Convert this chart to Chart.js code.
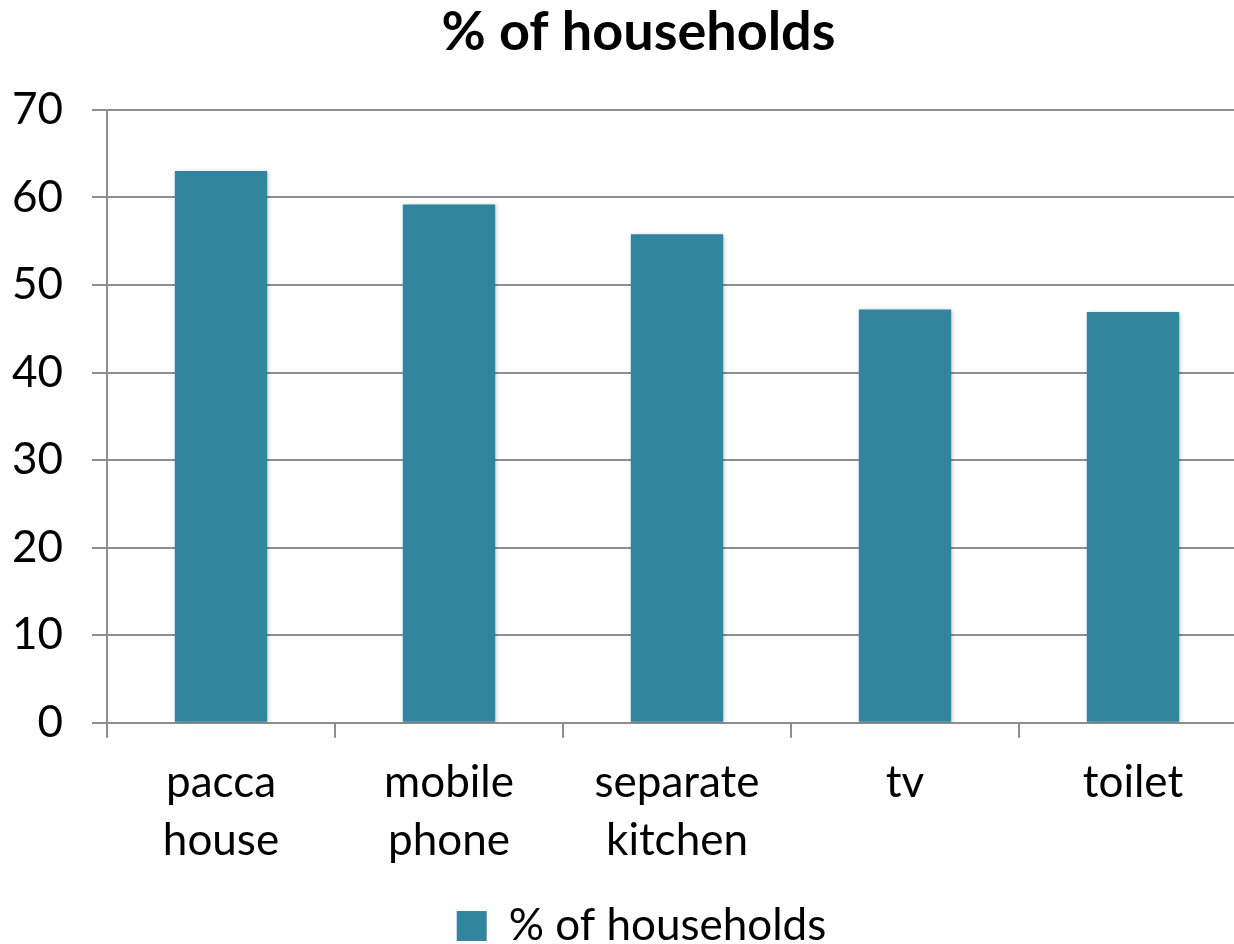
<!DOCTYPE html>
<html>
<head>
<meta charset="utf-8">
<script src="https://cdn.jsdelivr.net/npm/chart.js@4.4.0/dist/chart.umd.min.js"></script>
<style>
    html, body { margin: 0; padding: 0; background: #fff; overflow: hidden; }
    #wrap { width: 1276px; height: 944px; }
</style>
</head>
<body>
<div id="wrap"><canvas id="chart" width="1276" height="944"></canvas></div>
<script>
// dados
const categories = [['pacca', 'house'], ['mobile', 'phone'], ['separate', 'kitchen'], 'tv', 'toilet'];
const seriesName = '% of households';
const values = [63.0, 59.2, 55.8, 47.2, 46.9];
const yTicks = [0, 10, 20, 30, 40, 50, 60, 70];

const barColor = '#31859c';
const gridColor = '#8e8e8e';
const fontFamily = 'Lato, "Open Sans", sans-serif';

// sombra leve nas barras
const barShadow = {
    id: 'barShadow',
    beforeDatasetsDraw(chart) {
        const ctx = chart.ctx;
        ctx.save();
        ctx.shadowColor = 'rgba(0,0,0,0.25)';
        ctx.shadowBlur = 4;
        ctx.shadowOffsetX = 1;
        ctx.shadowOffsetY = 1;
    },
    afterDatasetsDraw(chart) {
        chart.ctx.restore();
    }
};

// centraliza título e legenda na largura total (o gráfico original é mais largo que a imagem)
const recenter = {
    id: 'recenter',
    afterLayout(chart) {
        const dx = 15;
        if (chart.titleBlock) {
            chart.titleBlock.left += dx;
            chart.titleBlock.right += dx;
        }
        if (chart.legend) {
            chart.legend.left += 18;
            chart.legend.right += 18;
            chart.legend.top += 14;
            chart.legend.bottom += 14;
        }
    }
};

const ctx = document.getElementById('chart').getContext('2d');
new Chart(ctx, {
    type: 'bar',
    data: {
        labels: categories,
        datasets: [{
            label: seriesName,
            data: values,
            backgroundColor: barColor,
            borderWidth: 0,
            categoryPercentage: 1,
            barPercentage: 0.405
        }]
    },
    options: {
        responsive: false,
        animation: false,
        layout: { padding: { left: 0, right: 29, top: 0, bottom: 0 } },
        plugins: {
            title: {
                display: true,
                text: seriesName,
                color: '#000',
                font: { family: fontFamily, size: 54, weight: 'bold', lineHeight: 1.2 },
                padding: { top: 0, bottom: 45 }
            },
            legend: {
                position: 'bottom',
                labels: {
                    color: '#000',
                    font: { family: fontFamily, size: 44 },
                    boxWidth: 30,
                    boxHeight: 30,
                    padding: 4
                }
            },
            tooltip: { enabled: false }
        },
        scales: {
            x: {
                offset: true,
                grid: {
                    offset: true,
                    drawOnChartArea: false,
                    drawTicks: true,
                    tickLength: 15,
                    color: gridColor,
                    lineWidth: 2
                },
                border: { color: gridColor, width: 2 },
                ticks: {
                    color: '#000',
                    font: { family: fontFamily, size: 44, lineHeight: 1.32 },
                    padding: 16,
                    maxRotation: 0
                }
            },
            y: {
                min: 0,
                max: 70,
                afterBuildTicks: (scale) => {
                    scale.ticks = yTicks.map(v => ({ value: v }));
                },
                afterFit: (scale) => {
                    scale.width = 107;
                },
                grid: {
                    color: gridColor,
                    lineWidth: 2,
                    tickLength: 15
                },
                border: { color: gridColor, width: 2 },
                ticks: {
                    color: '#000',
                    font: { family: fontFamily, size: 44 },
                    padding: 29
                }
            }
        }
    },
    plugins: [barShadow, recenter]
});
</script>
</body>
</html>
